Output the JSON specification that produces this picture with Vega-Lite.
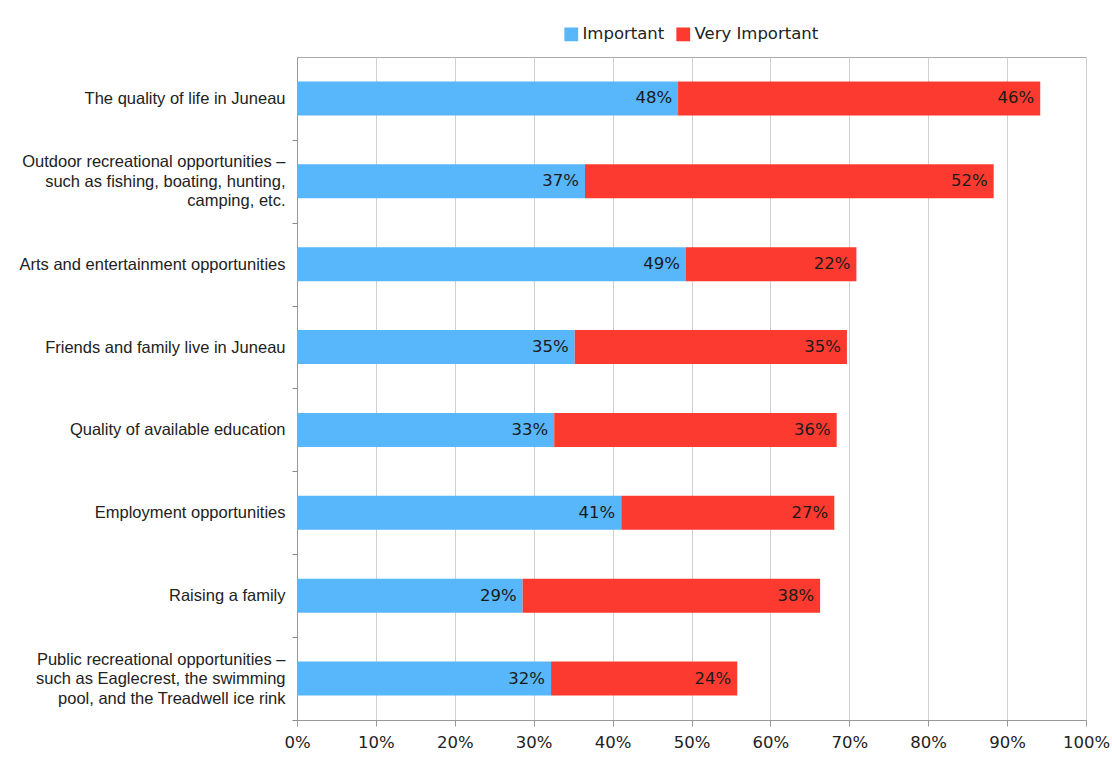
{
  "$schema": "https://vega.github.io/schema/vega-lite/v6.json",
  "width": 789,
  "height": 663,
  "autosize": {"type": "none"},
  "padding": {"left": 297, "top": 57, "right": 26, "bottom": 49},
  "background": "white",
  "data": {
    "values": [
      {"category": "The quality of life in Juneau", "label": "The quality of life in Juneau", "type": "Important", "value": 0.483},
      {"category": "The quality of life in Juneau", "label": "The quality of life in Juneau", "type": "Very Important", "value": 0.459},
      {"category": "Outdoor", "label": "Outdoor recreational opportunities –|such as fishing, boating, hunting,|camping, etc.", "type": "Important", "value": 0.365},
      {"category": "Outdoor", "label": "Outdoor recreational opportunities –|such as fishing, boating, hunting,|camping, etc.", "type": "Very Important", "value": 0.518},
      {"category": "Arts and entertainment opportunities", "label": "Arts and entertainment opportunities", "type": "Important", "value": 0.493},
      {"category": "Arts and entertainment opportunities", "label": "Arts and entertainment opportunities", "type": "Very Important", "value": 0.216},
      {"category": "Friends and family live in Juneau", "label": "Friends and family live in Juneau", "type": "Important", "value": 0.352},
      {"category": "Friends and family live in Juneau", "label": "Friends and family live in Juneau", "type": "Very Important", "value": 0.345},
      {"category": "Quality of available education", "label": "Quality of available education", "type": "Important", "value": 0.326},
      {"category": "Quality of available education", "label": "Quality of available education", "type": "Very Important", "value": 0.358},
      {"category": "Employment opportunities", "label": "Employment opportunities", "type": "Important", "value": 0.411},
      {"category": "Employment opportunities", "label": "Employment opportunities", "type": "Very Important", "value": 0.27},
      {"category": "Raising a family", "label": "Raising a family", "type": "Important", "value": 0.286},
      {"category": "Raising a family", "label": "Raising a family", "type": "Very Important", "value": 0.377},
      {"category": "Public", "label": "Public recreational opportunities –|such as Eaglecrest, the swimming|pool, and the Treadwell ice rink", "type": "Important", "value": 0.322},
      {"category": "Public", "label": "Public recreational opportunities –|such as Eaglecrest, the swimming|pool, and the Treadwell ice rink", "type": "Very Important", "value": 0.236}
    ]
  },
  "encoding": {
    "y": {
      "field": "label",
      "type": "nominal",
      "sort": null,
      "title": null,
      "scale": {"paddingInner": 0.59, "paddingOuter": 0.295},
      "axis": {
        "labelExpr": "split(datum.value, '|')",
        "labelFont": "Liberation Sans",
        "labelFontSize": 16.5,
        "labelColor": "#222",
        "labelLineHeight": 19.5,
        "labelPadding": 7,
        "labelLimit": 300,
        "labelOffset": {"condition": {"test": "indexof(datum.value, '|') >= 0", "value": -60.9}, "value": -41.4},
        "tickOffset": 41.4,
        "tickSize": 5,
        "tickColor": "#888",
        "domainColor": "#999",
        "grid": false
      }
    },
    "x": {
      "field": "value",
      "type": "quantitative",
      "stack": "zero",
      "title": null,
      "scale": {"domain": [0, 1]},
      "axis": {
        "format": ".0%",
        "values": [0, 0.1, 0.2, 0.3, 0.4, 0.5, 0.6, 0.7, 0.8, 0.9, 1],
        "labelFlush": false,
        "labelFont": "DejaVu Sans",
        "labelFontSize": 16.5,
        "labelColor": "#222",
        "labelPadding": 8,
        "tickSize": 6,
        "tickColor": "#999",
        "domainColor": "#999",
        "grid": true,
        "gridColor": "#d0d0d0"
      }
    },
    "order": {"field": "type", "sort": "ascending"},
    "detail": {"field": "type"}
  },
  "layer": [
    {
      "mark": {"type": "bar"},
      "encoding": {
        "color": {
          "field": "type",
          "type": "nominal",
          "scale": {"domain": ["Important", "Very Important"], "range": ["#58b6fa", "#fd3a30"]},
          "legend": {
            "title": null,
            "orient": "none",
            "direction": "horizontal",
            "legendX": 266,
            "legendY": -31,
            "symbolType": "square",
            "symbolSize": 190,
            "symbolStrokeWidth": 0,
            "symbolOpacity": 1,
            "labelFont": "DejaVu Sans",
            "labelFontSize": 16.5,
            "labelColor": "#222",
            "labelOffset": 3,
            "columnPadding": 10
          }
        }
      }
    },
    {
      "mark": {"type": "text", "align": "right", "dx": -6, "font": "DejaVu Sans", "fontSize": 16.5, "color": "#1a1a1a", "baseline": "middle"},
      "encoding": {
        "text": {"field": "value", "type": "quantitative", "format": ".0%"}
      }
    }
  ],
  "config": {
    "view": {"stroke": "#aaa", "strokeWidth": 1}
  }
}
